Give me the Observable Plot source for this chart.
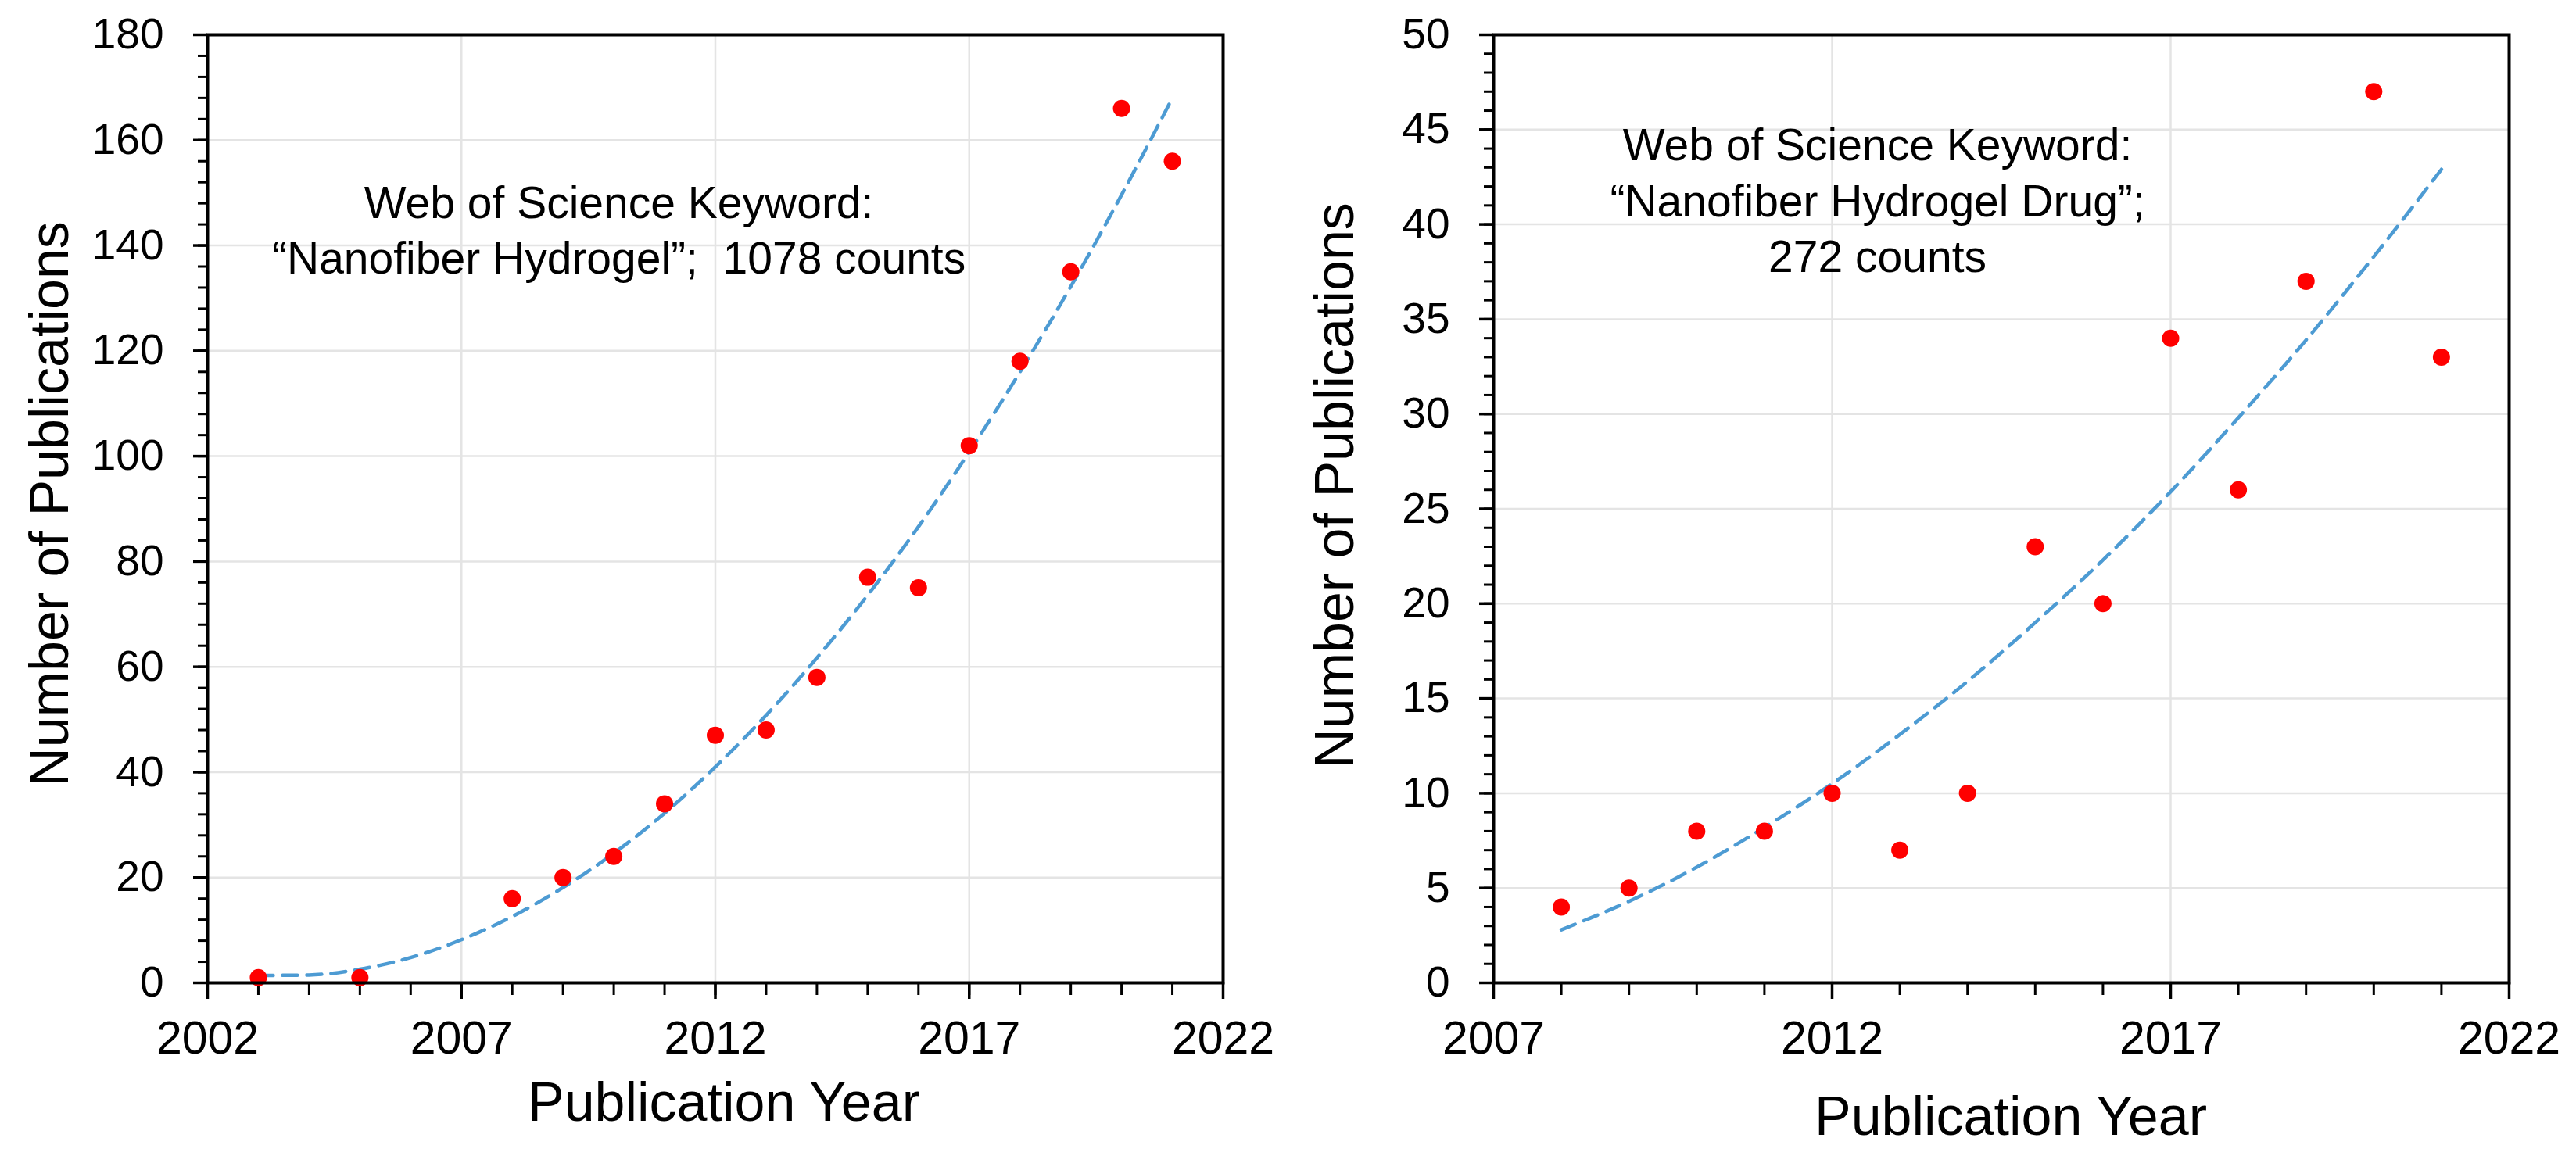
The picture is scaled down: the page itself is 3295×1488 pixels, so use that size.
<!DOCTYPE html>
<html>
<head>
<meta charset="utf-8">
<script src="https://cdn.jsdelivr.net/npm/d3@7"></script>
<script src="https://cdn.jsdelivr.net/npm/@observablehq/plot@0.6"></script>
<style>
html, body { margin: 0; padding: 0; background: #fff; }
#wrap { display: flex; width: 3295px; height: 1488px; }
#wrap svg { display: block; }
</style>
</head>
<body>
<div id="wrap"></div>
<script>
// ---- Left panel: "Nanofiber Hydrogel" ----
const yearsA  = [2003, 2005, 2008, 2009, 2010, 2011, 2012, 2013, 2014, 2015, 2016, 2017, 2018, 2019, 2020, 2021];
const countsA = [1, 1, 16, 20, 24, 34, 47, 48, 58, 77, 75, 102, 118, 135, 166, 156];
const trendYearsA = [2003, 2004, 2005, 2006, 2007, 2008, 2009, 2010, 2011, 2012, 2013, 2014, 2015, 2016, 2017, 2018, 2019, 2020, 2021];
const trendA      = [1.4, 1.5, 2.6, 4.8, 8.2, 12.6, 18.1, 24.6, 32.2, 41.0, 50.8, 61.7, 73.6, 86.6, 100.8, 116.0, 132.2, 149.6, 168.0];
const xTicksA = [2002, 2007, 2012, 2017, 2022];
const yTicksA = [0, 20, 40, 60, 80, 100, 120, 140, 160, 180];
const noteA = "Web of Science Keyword:\n\u201CNanofiber Hydrogel\u201D;  1078 counts";

// ---- Right panel: "Nanofiber Hydrogel Drug" ----
const yearsB  = [2008, 2009, 2010, 2011, 2012, 2013, 2014, 2015, 2016, 2017, 2018, 2019, 2020, 2021];
const countsB = [4, 5, 8, 8, 10, 7, 10, 23, 20, 34, 26, 37, 47, 33];
const trendYearsB = [2008, 2009, 2010, 2011, 2012, 2013, 2014, 2015, 2016, 2017, 2018, 2019, 2020, 2021];
const trendB      = [2.8, 4.3, 6.1, 8.2, 10.5, 13.1, 15.9, 19.0, 22.3, 25.9, 29.8, 33.9, 38.3, 42.9];
const xTicksB = [2007, 2012, 2017, 2022];
const yTicksB = [0, 5, 10, 15, 20, 25, 30, 35, 40, 45, 50];
const noteB = "Web of Science Keyword:\n\u201CNanofiber Hydrogel Drug\u201D;\n272 counts";

const xTitle = "Publication Year";
const yTitle = "Number of Publications";

const FONT = "'Liberation Sans', Arial, Helvetica, sans-serif";
const DOT = "#ff0000";
const TREND = "#4d9bd3";
const GRID = "#e4e4e4";

function panel(o) {
  const pts = o.years.map((x, i) => ({x, y: o.counts[i]}));
  const tr = o.trendYears.map((x, i) => ({x, y: o.trend[i]}));
  return Plot.plot({
    width: o.width,
    height: 1488,
    marginLeft: o.marginLeft,
    marginRight: o.marginRight,
    marginTop: 44,
    marginBottom: 231,
    style: {fontFamily: FONT, background: "#fff", color: "#000", overflow: "visible"},
    x: {domain: o.xDomain, nice: false},
    y: {domain: o.yDomain, nice: false},
    marks: [
      Plot.gridY({ticks: o.yTicks, stroke: GRID, strokeOpacity: 1, strokeWidth: 2.5}),
      Plot.gridX({ticks: o.xTicks, stroke: GRID, strokeOpacity: 1, strokeWidth: 2.5}),
      Plot.axisY({ticks: o.yMinor, tickSize: 12, strokeWidth: 3, fill: "none", label: null}),
      Plot.axisY({ticks: o.yTicks, tickSize: 18, tickPadding: 38, strokeWidth: 3.5, fontSize: 55, label: null, tickFormat: d => String(d)}),
      Plot.axisX({ticks: o.xMinor, tickSize: 16, strokeWidth: 3, fill: "none", label: null}),
      Plot.axisX({ticks: o.xTicks, tickSize: 21, tickPadding: 28, strokeWidth: 3.5, fontSize: 59, label: null, tickFormat: d => String(d)}),
      Plot.line(tr, {x: "x", y: "y", stroke: TREND, strokeWidth: 4.5, strokeDasharray: "19,12", curve: "monotone-x"}),
      Plot.dot(pts, {x: "x", y: "y", r: 11, fill: DOT}),
      Plot.frame({stroke: "#000", strokeWidth: 4}),
      Plot.text([yTitle], {frameAnchor: "left", textAnchor: "middle", lineAnchor: "middle", rotate: -90, dx: o.yTitleDx, dy: o.yTitleDy, fontSize: 70, fill: "#000"}),
      Plot.text([xTitle], {frameAnchor: "bottom", textAnchor: "middle", lineAnchor: "bottom", dx: o.xTitleDx, dy: o.xTitleDy, fontSize: 70, fill: "#000"}),
      Plot.text([o.note], {x: o.noteX, y: o.noteY, lineAnchor: "bottom", textAnchor: "middle", fontSize: 57, lineHeight: 1.25, fill: "#000"})
    ]
  });
}

const wrap = document.getElementById("wrap");
wrap.appendChild(panel({
  width: 1647, marginLeft: 265, marginRight: 83,
  years: yearsA, counts: countsA, trendYears: trendYearsA, trend: trendA,
  xDomain: [2002, 2022], yDomain: [0, 180],
  xTicks: xTicksA, yTicks: yTicksA,
  xMinor: d3.range(2002, 2023, 1), yMinor: d3.range(0, 181, 4),
  yTitleDx: -201, yTitleDy: -6, xTitleDx: 11, xTitleDy: 176,
  note: noteA, noteX: 2010.1, noteY: 134.6
}));
wrap.appendChild(panel({
  width: 1648, marginLeft: 263, marginRight: 86,
  years: yearsB, counts: countsB, trendYears: trendYearsB, trend: trendB,
  xDomain: [2007, 2022], yDomain: [0, 50],
  xTicks: xTicksB, yTicks: yTicksB,
  xMinor: d3.range(2007, 2023, 1), yMinor: d3.range(0, 51, 1),
  yTitleDx: -202, yTitleDy: -30, xTitleDx: 12, xTitleDy: 194,
  note: noteB, noteX: 2012.67, noteY: 37.5
}));
</script>
</body>
</html>
